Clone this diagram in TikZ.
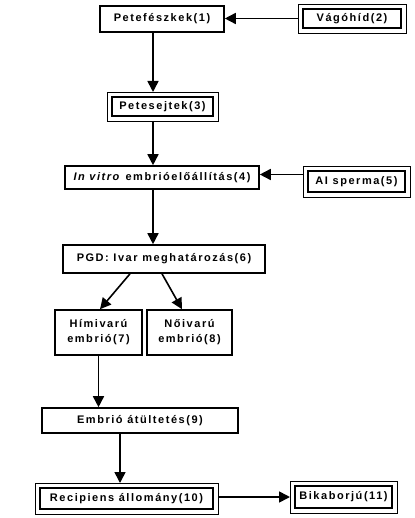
\documentclass[tikz,border=0pt]{standalone}
\usepackage{fontspec}
\setmainfont{Liberation Sans}[LetterSpace=14]
\usetikzlibrary{arrows.meta}
\begin{document}
\begin{tikzpicture}[x=1pt, y=-1pt,
  every node/.style={font=\fontsize{11}{15}\selectfont\bfseries, inner sep=0pt, align=center, text=black},
  box/.style={draw, line width=1.6pt, minimum width=#1},
  dbox/.style={draw, line width=1.7pt, minimum width=#1, outer sep=5pt},
  frame/.style={line width=0.9pt},
  arr/.style={line width=1.6pt, -{Triangle[length=11pt, width=11pt]}}]
  \useasboundingbox[fill=white] (0,0) rectangle (414,518);

  % spine and lanes used by vertical connectors
  \coordinate (spine) at (153,0);
  \coordinate (lane) at (120,0);

  % boxes
  \node[box=124pt, minimum height=26pt] (n1) at (162,19) {Petefészkek(1)};
  \node[dbox=98pt, minimum height=19pt] (n2) at (352,18.5) {Vágóhíd(2)};
  \node[dbox=101pt, minimum height=19pt] (n3) at (162.5,106.5) {Petesejtek(3)};
  \node[box=194pt, minimum height=23pt] (n4) at (162,177.5) {\textit{In vitro} embrióelőállítás(4)};
  \node[dbox=97pt, minimum height=21pt] (n5) at (356.5,181.5) {AI sperma(5)};
  \node[box=202pt, minimum height=28pt] (n6) at (164,259) {PGD: Ivar meghatározás(6)};
  \node[box=87pt, minimum height=45pt] (n7) at (98.5,332.5) {Hímivarú\\embrió(7)};
  \node[box=85pt, minimum height=45pt] (n8) at (189.5,332.5) {Nőivarú\\embrió(8)};
  \node[box=196pt, minimum height=25pt] (n9) at (140,420.5) {Embrió átültetés(9)};
  \node[dbox=173pt, minimum height=21pt] (n10) at (126.5,498.5) {Recipiens állomány(10)};
  \node[dbox=97pt, minimum height=22pt] (n11) at (343.5,497) {Bikaborjú(11)};

  % outer frames of the double boxes
  \foreach \n in {n2,n3,n5,n10,n11}
    \draw[frame] (\n.south west) rectangle (\n.north east);

  % connectors
  \draw[arr] (n2.west) -- (n1.east |- n2.west);
  \draw[arr] (n1.south -| spine) -- (n3.north -| spine);
  \draw[arr] (n3.south -| spine) -- (n4.north -| spine);
  \coordinate (a4) at ([yshift=3pt]n4.east);
  \draw[arr] (a4 -| n5.west) -- (a4);
  \draw[arr] (n4.south -| spine) -- (n6.north -| spine);
  \draw[arr] ([xshift=-34pt]n6.south) -- ([xshift=1.5pt]n7.north);
  \draw[arr] ([xshift=-2pt]n6.south) -- ([xshift=-7.5pt]n8.north);
  \draw[arr] (n7.south) -- (n9.north -| n7.south);
  \draw[arr] (n9.south -| lane) -- (n10.north -| lane);
  \draw[arr] (n10.east |- n11.west) -- (n11.west);
\end{tikzpicture}
\end{document}
